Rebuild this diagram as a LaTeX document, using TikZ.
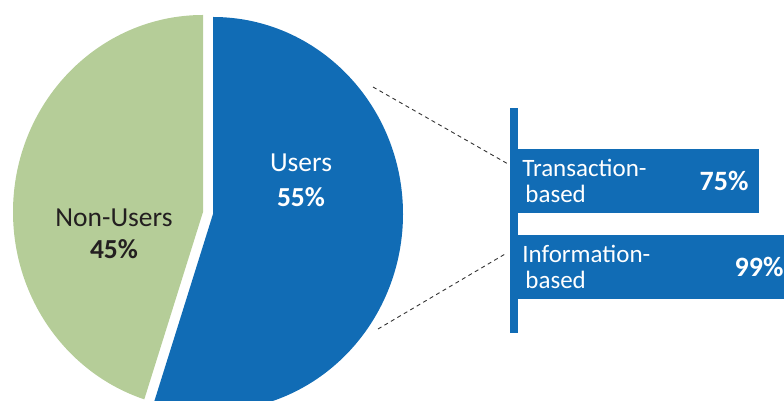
\documentclass[tikz,border=0pt]{standalone}
\usepackage{fontspec}
\setmainfont{Carlito}
\usepackage{tikz}
\usetikzlibrary{positioning}
\usetikzlibrary{calc}

\definecolor{userblue}{RGB}{17,108,181}
\definecolor{nongreen}{RGB}{181,205,152}
\definecolor{labelgray}{RGB}{35,31,32}
\definecolor{dashgray}{RGB}{51,51,51}

\tikzset{
	bar/.style={fill=userblue, inner sep=0pt, minimum height=64},
	barlabel/.style={text=white, align=left, inner sep=0pt, font=\fontsize{25}{26}\selectfont},
	barvalue/.style={text=white, inner sep=0pt, font=\fontsize{28}{30}\selectfont\bfseries},
	pielabel/.style={inner sep=0pt, anchor=base, font=\fontsize{27.5}{30}\selectfont},
	zoomline/.style={dashgray, line width=0.9pt, dash pattern=on 4pt off 3.5pt},
}

\begin{document}
\begin{tikzpicture}[x=1pt, y=1pt]

	\useasboundingbox (0,0) rectangle (784,401);
	\clip (0,0) rectangle (784,401);

	% centres of the two (slightly pulled apart) slices
	\coordinate (G) at (203,189);
	\coordinate (B) at (213,187);

	% Non-Users 45%, Users 55%: the cut lies at 90-198 = -108 degrees
	\fill[nongreen] (G) -- ++(90:190 and 197)
		arc[start angle=90, end angle=252, x radius=190, y radius=197] -- cycle;
	\fill[userblue] (B) -- ++(90:190 and 197)
		arc[start angle=90, end angle=-108, x radius=190, y radius=197] -- cycle;

	\node[pielabel, text=labelgray] (non)    at (114,174) {Non-Users};
	\node[pielabel, text=labelgray] (nonpct) at (114,142) {\bfseries 45\%};
	\node[pielabel, text=white]     (use)    at (301,229) {Users};
	\node[pielabel, text=white]     (usepct) at (301,194) {\bfseries 55\%};

	%%%%%%%%%%%%%%%%%%%%%%%%%%%%%%%%%%%%%%%%%%%%%%%%%%%%%%%%%%%%%%
	% break-down of the users
	\node[fill=userblue, inner sep=0pt, minimum width=8, minimum height=225] (axis) at (514,180.5) {};

	\node[bar, minimum width=241, anchor=north west] (tb) at ([yshift=-41]axis.north east) {};
	\node[bar, minimum width=276, anchor=north west] (ib) at ([yshift=-127]axis.north east) {};

	\node[barlabel, anchor=west] (tblabel) at ([xshift=4]tb.west) {Transaction-\\\hspace*{3pt}based};
	\node[barvalue, anchor=east] (tbval)   at ([xshift=-11]tb.east) {75\%};
	\node[barlabel, anchor=west] (iblabel) at ([xshift=4]ib.west) {Information-\\\hspace*{3pt}based};
	\node[barvalue, anchor=east] (ibval)   at ([xshift=-11]ib.east) {99\%};

	% dashed zoom lines from the Users slice to the bars
	\coordinate (zoomtop) at (373,314);
	\coordinate (zoombot) at (378,72);
	\draw[zoomline] (zoomtop) -- ([yshift=55.5]axis.west);
	\draw[zoomline] (zoombot) -- ([xshift=-3,yshift=-32.5]axis.west);

\end{tikzpicture}
\end{document}
